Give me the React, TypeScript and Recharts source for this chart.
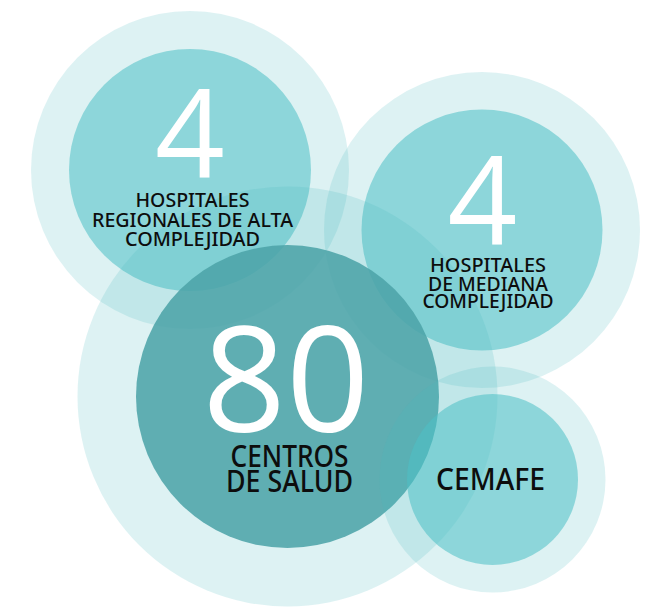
import React from 'react';
import { ScatterChart, Scatter, XAxis, YAxis } from 'recharts';

// ---- data ----
const categories = ['HOSPITALES REGIONALES DE ALTA COMPLEJIDAD', 'HOSPITALES DE MEDIANA COMPLEJIDAD', 'CENTROS DE SALUD', 'CEMAFE'];
const counts = ['4', '4', '80', ''];
const labelLines = [
  ['HOSPITALES', 'REGIONALES DE ALTA', 'COMPLEJIDAD'],
  ['HOSPITALES', 'DE MEDIANA', 'COMPLEJIDAD'],
  ['CENTROS', 'DE SALUD'],
  ['CEMAFE'],
];
const centerX = [190, 482, 287.5, 492.5];
const centerY = [170, 230, 396.5, 479.5];
const innerR = [121, 120.5, 151.5, 85.5];
const haloR = [159, 158, 210, 113];

const W = 651;
const H = 607;

// ---- styles / layout ----
const HALO = { fill: 'rgb(70,185,190)', opacity: 0.184 };
const INNER_LIGHT = { fill: 'rgb(77,193,198)', opacity: 0.556 };
const INNER_DARK = { fill: 'rgb(76,163,168)', opacity: 0.87 };
const LABEL_LAYOUT = [
  { numDx: 0, numDy: 7, numSize: 122, lineDx: 2.5, lineDy: [37, 57, 76], lineSize: 20, lineLen: [114, 201, 135] },
  { numDx: 0.5, numDy: 14, numSize: 122, lineDx: 6, lineDy: [42, 61, 78], lineSize: 20, lineLen: [116, 120, 131] },
  { numDx: -1.5, numDy: 35.5, numSize: 146, lineDx: 2, lineDy: [70.5, 95.5], lineSize: 30, lineLen: [118, 127] },
  { numDx: 0, numDy: 0, numSize: 0, lineDx: -2, lineDy: [10.5], lineSize: 30, lineLen: [109] },
];

const bubbles = categories.map((name, i) => ({
  name,
  x: centerX[i],
  y: centerY[i],
  r: innerR[i],
  halo: haloR[i],
  count: counts[i],
  lines: labelLines[i],
  idx: i,
}));

// radius in data units -> pixels (axes are 1 unit per pixel)
const pxPerUnit = 1;

const BubbleShape = (props: any) => {
  const { cx, cy, payload } = props;
  const inner = payload.idx === 2 ? INNER_DARK : INNER_LIGHT;
  return (
    <g>
      <circle cx={cx} cy={cy} r={payload.halo * pxPerUnit} fill={HALO.fill} fillOpacity={HALO.opacity} />
      <circle cx={cx} cy={cy} r={payload.r * pxPerUnit} fill={inner.fill} fillOpacity={inner.opacity} />
    </g>
  );
};

const LabelShape = (props: any) => {
  const { cx, cy, payload } = props;
  const L = LABEL_LAYOUT[payload.idx];
  return (
    <text textAnchor="middle" fontFamily="'Noto Sans', sans-serif">
      {payload.count ? (
        <tspan
          x={cx + L.numDx}
          y={cy + L.numDy}
          fill="#ffffff"
          fontFamily="'Open Sans', sans-serif"
          fontWeight={400}
          fontSize={L.numSize}
        >
          {payload.count}
        </tspan>
      ) : null}
      {payload.lines.map((ln: string, j: number) => (
        <tspan
          key={j}
          x={cx + L.lineDx}
          y={cy + L.lineDy[j]}
          fill="#0d0d0d"
          fontWeight={500}
          fontSize={L.lineSize}
          textLength={L.lineLen[j]}
          lengthAdjust="spacingAndGlyphs"
        >
          {ln}
        </tspan>
      ))}
    </text>
  );
};

export default function App() {
  return (
    <div style={{ position: 'absolute', left: 0, top: 0, width: W, height: H, background: '#fff' }}>
      <ScatterChart width={W} height={H} margin={{ top: 0, right: 0, bottom: 0, left: 0 }}>
        <XAxis type="number" dataKey="x" domain={[0, W]} hide />
        <YAxis type="number" dataKey="y" domain={[0, H]} reversed hide />
        <Scatter data={bubbles} shape={<BubbleShape />} isAnimationActive={false} />
        <Scatter data={bubbles} shape={<LabelShape />} isAnimationActive={false} />
      </ScatterChart>
    </div>
  );
}
